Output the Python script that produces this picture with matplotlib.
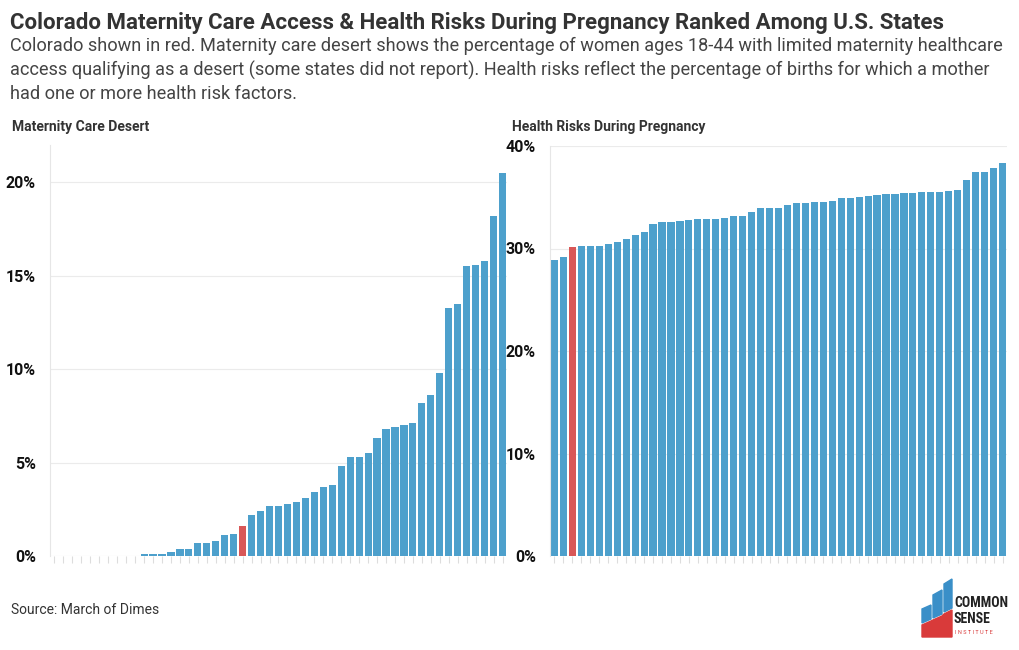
import numpy as np
import matplotlib.pyplot as plt
from matplotlib.patches import Polygon
from matplotlib.ticker import FuncFormatter

plt.rcParams['font.family'] = ['Roboto', 'DejaVu Sans']

# データ（左: 産科医療砂漠, 右: 妊娠中の健康リスク） 単位 %
desert_vals = [0, 0, 0, 0, 0, 0, 0, 0, 0, 0,
               0.1, 0.1, 0.1, 0.2, 0.4, 0.4, 0.7, 0.7, 0.8, 1.1,
               1.2, 1.6, 2.2, 2.4, 2.7, 2.7, 2.8, 2.9, 3.1, 3.4,
               3.7, 3.8, 4.8, 5.3, 5.3, 5.5, 6.3, 6.8, 6.9, 7.0,
               7.1, 8.2, 8.6, 9.8, 13.3, 13.5, 15.5, 15.6, 15.8, 18.2,
               20.5]
desert_co = 21  # Colorado の位置

risk_vals = [28.9, 29.2, 30.1, 30.2, 30.2, 30.2, 30.4, 30.6, 30.9, 31.3,
             31.6, 32.4, 32.6, 32.6, 32.7, 32.8, 32.9, 32.9, 32.9, 33.0,
             33.2, 33.2, 33.6, 34.0, 34.0, 34.0, 34.2, 34.4, 34.4, 34.5,
             34.5, 34.6, 34.9, 34.9, 35.0, 35.1, 35.2, 35.3, 35.3, 35.4,
             35.4, 35.5, 35.5, 35.5, 35.6, 35.7, 36.7, 37.5, 37.5, 37.9,
             38.3]
risk_co = 2

desert_ticks = [0, 5, 10, 15, 20]
risk_ticks = [0, 10, 20, 30, 40]

BLUE = "#4da0cc"
RED = "#d95757"

fig = plt.figure(figsize=(10.2, 6.5), dpi=100)

def panel(rect, vals, co, ticks, ylim):
    ax = fig.add_axes(rect)
    x = np.arange(len(vals))
    colors = [RED if i == co else BLUE for i in x]
    ax.bar(x, vals, width=0.8, color=colors, zorder=2)
    ax.set_xlim(-0.5, len(vals) - 0.5)
    ax.set_ylim(0, ylim)
    ax.set_yticks(ticks)
    ax.yaxis.set_major_formatter(FuncFormatter(lambda v, p: f"{v:.0f}%"))
    ax.set_xticks(x)
    ax.set_xticklabels([])
    ax.tick_params(axis="x", length=5, color="#dddddd", width=0.8)
    ax.tick_params(axis="y", length=0, pad=10, labelsize=11.5, labelcolor="#111111")
    for lab in ax.get_yticklabels():
        lab.set_fontweight("bold")
    ax.grid(axis="y", color="#ebebeb", linewidth=0.8, zorder=0)
    for s in ["top", "right", "bottom"]:
        ax.spines[s].set_visible(False)
    ax.spines["left"].set_color("#e6e6e6")
    ax.spines["left"].set_linewidth(0.8)
    return ax

ax1 = panel([50/1020, 94/650, 457/1020, 411/650], desert_vals, desert_co, desert_ticks, 22)
ax2 = panel([550/1020, 94/650, 457/1020, 410/650], risk_vals, risk_co, risk_ticks, 40)

# テキスト
fig.text(10/1020, 1 - 23/650, "Colorado Maternity Care Access & Health Risks During Pregnancy Ranked Among U.S. States",
         fontsize=16, fontweight="bold", color="#333333", va="center")
fig.text(10/1020, 1 - 37/650,
         "Colorado shown in red. Maternity care desert shows the percentage of women ages 18-44 with limited maternity healthcare\n"
         "access qualifying as a desert (some states did not report). Health risks reflect the percentage of births for which a mother\n"
         "had one or more health risk factors.",
         fontsize=13.1, color="#444444", va="top", linespacing=1.37)
fig.text(12/1020, 1 - 127/650, "Maternity Care Desert", fontsize=10, fontweight="bold", color="#333333", va="center")
fig.text(512/1020, 1 - 127/650, "Health Risks During Pregnancy", fontsize=10, fontweight="bold", color="#333333", va="center")
fig.text(11/1020, 1 - 610/650, "Source: March of Dimes", fontsize=10, color="#333333", va="center")

# ロゴ
def px(pts):
    return [(a / 1020, 1 - b / 650) for a, b in pts]

for poly in [[(922, 609), (931, 605), (931, 619), (922, 623)],
             [(933, 595), (942, 590), (942, 614), (933, 618)],
             [(944, 584), (952, 579), (952, 608), (944, 612)]]:
    fig.patches.append(Polygon(px(poly), closed=True, transform=fig.transFigure, color="#3a8fc8"))
fig.patches.append(Polygon(px([(922, 625), (931, 621), (933, 620), (942, 616), (944, 614), (952, 610),
                               (952, 637), (922, 637)]), closed=True, transform=fig.transFigure, color="#d93a3a"))
fig.text(954/1020, 1 - 603/650, "COMMON", fontsize=10, fontweight="bold", color="#222222", va="center",
         family=['Roboto Condensed', 'Roboto'])
fig.text(954/1020, 1 - 619/650, "SENSE", fontsize=10, fontweight="bold", color="#222222", va="center",
         family=['Roboto Condensed', 'Roboto'])
fig.text(955/1020, 1 - 633/650, "I N S T I T U T E", fontsize=4, color="#d93a3a", va="center")

fig.savefig("out.png", dpi=100)
